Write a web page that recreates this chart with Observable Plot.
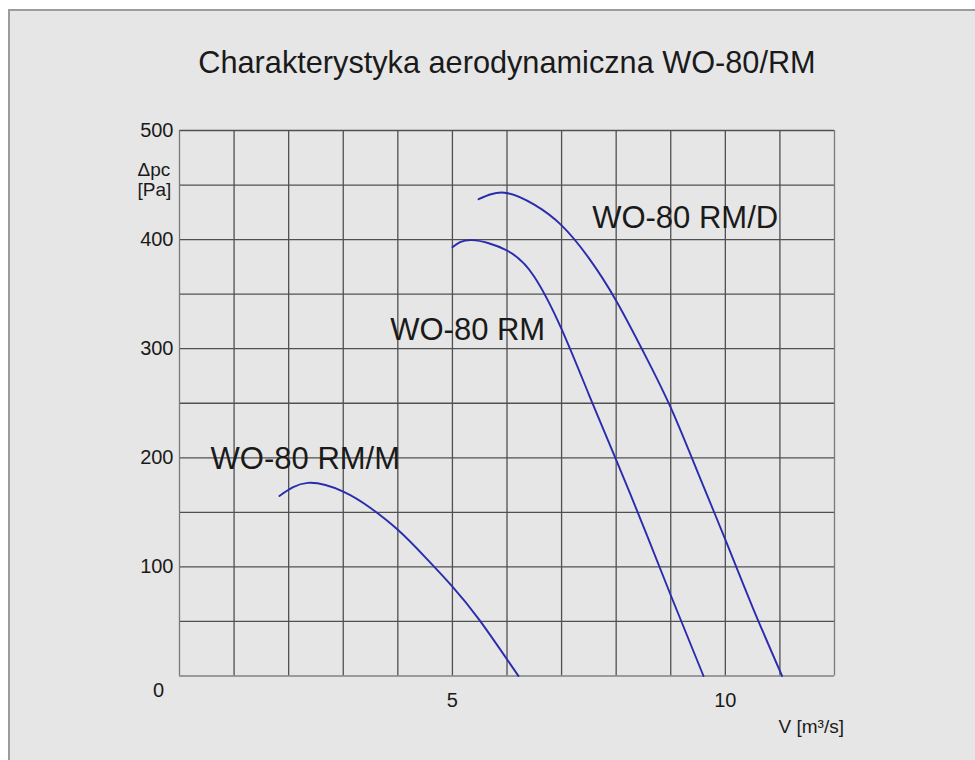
<!DOCTYPE html>
<html>
<head>
<meta charset="utf-8">
<script src="https://cdn.jsdelivr.net/npm/d3@7"></script>
<script src="https://cdn.jsdelivr.net/npm/@observablehq/plot@0.6"></script>
<style>
  html, body { margin: 0; padding: 0; background: #ffffff; width: 975px; height: 760px; overflow: hidden; }
  .frame { position: absolute; left: 8px; top: 9px; width: 1000px; height: 800px; background: #e6e6e6;
           border-left: 2px solid #9c9c9c; border-top: 2px solid #9c9c9c; }
  #chart { position: absolute; left: 0; top: 0; }
</style>
</head>
<body>
<div class="frame"></div>
<div id="chart"></div>
<script>
// ---- data ----
const title = "Charakterystyka aerodynamiczna WO-80/RM";
const yAxisLabel = "Δpc\n[Pa]";
const xAxisLabel = "V [m³/s]";

const xTicks = [5, 10];
const yTicks = [100, 200, 300, 400, 500];
const xGrid = [0, 1, 2, 3, 4, 5, 6, 7, 8, 9, 10, 11, 12];
const yGrid = [0, 50, 100, 150, 200, 250, 300, 350, 400, 450, 500];

const seriesNames = ["WO-80 RM/M", "WO-80 RM", "WO-80 RM/D"];

const rmM_V  = [1.83, 2.35, 3.0, 3.5, 4.0, 4.5, 5.0, 5.5, 6.21];
const rmM_dp = [165, 177, 169, 154, 134, 109, 82, 51, 0];

const rm_V  = [5.0, 5.35, 6.0, 6.5, 7.0, 7.5, 8.0, 8.5, 9.0, 9.6];
const rm_dp = [393, 399.5, 390, 366, 318, 258, 198, 137, 74, 0];

const rmD_V  = [5.48, 5.95, 6.5, 7.0, 7.5, 8.0, 8.5, 9.0, 9.5, 10.0, 10.5, 11.04];
const rmD_dp = [437, 443, 432, 413, 383, 344, 297, 246, 186, 125, 63, 0];

const labelV  = [0.57, 3.86, 7.56];
const labelDp = [189.5, 308, 410.5];

// ---- build tables ----
const toRows = (name, xs, ys) => xs.map((v, i) => ({series: name, V: v, dp: ys[i]}));
const curves = [
  ...toRows(seriesNames[0], rmM_V, rmM_dp),
  ...toRows(seriesNames[1], rm_V, rm_dp),
  ...toRows(seriesNames[2], rmD_V, rmD_dp)
];
const labels = seriesNames.map((n, i) => ({name: n, V: labelV[i], dp: labelDp[i]}));

const font = "'Liberation Sans', Arial, Helvetica, sans-serif";
const ink = "#1a1a1a";

const chart = Plot.plot({
  width: 975,
  height: 760,
  marginLeft: 179,
  marginRight: 141,
  marginTop: 130,
  marginBottom: 84.5,
  style: {background: "transparent", fontFamily: font, fontSize: "20px", color: ink, overflow: "visible"},
  x: {domain: [0, 12], nice: false, axis: null},
  y: {domain: [0, 500], nice: false, axis: null},
  marks: [
    // grid
    Plot.ruleX(xGrid.slice(1, -1), {y1: 0, y2: 500, stroke: "#505050", strokeWidth: 1.3}),
    Plot.ruleY(yGrid.slice(1), {x1: 0, x2: 12, stroke: "#505050", strokeWidth: 1.3}),
    Plot.ruleX([xGrid[0], xGrid[xGrid.length - 1]], {y1: 0, y2: 500, stroke: "#7a7a7a", strokeWidth: 1.3}),
    Plot.ruleY([yGrid[0]], {x1: 0, x2: 12, stroke: "#808080", strokeWidth: 1.3}),
    // axes
    Plot.axisX(xTicks, {label: null, tickSize: 0, tickPadding: 17, fontSize: 20, fill: ink}),
    Plot.axisY(yTicks, {label: null, tickSize: 0, tickPadding: 6, fontSize: 20, fill: ink}),
    Plot.text([0], {x: 0, y: 0, text: () => "0", dx: -21, dy: 15, fontSize: 20, fill: ink, textAnchor: "middle"}),
    // curves
    Plot.line(curves, {x: "V", y: "dp", z: "series", stroke: "#2b2bae", strokeWidth: 1.9, curve: "natural"}),
    // curve labels
    Plot.text(labels, {x: "V", y: "dp", text: "name", textAnchor: "start", lineAnchor: "bottom", fontSize: 31, fill: ink}),
    // title & axis labels
    Plot.text([title], {frameAnchor: "top", text: d => d, lineAnchor: "bottom", dy: -58, fontSize: 30.7, fill: ink}),
    Plot.text([yAxisLabel], {frameAnchor: "top-left", text: d => d, textAnchor: "start", lineAnchor: "bottom", dx: -42, dy: 65.5, lineHeight: 1.06, fontSize: 19, fill: ink}),
    Plot.text([xAxisLabel], {frameAnchor: "bottom-right", text: d => d, textAnchor: "start", lineAnchor: "bottom", dx: -56, dy: 56.5, fontSize: 19, fill: ink})
  ]
});
document.getElementById("chart").appendChild(chart);
</script>
</body>
</html>
